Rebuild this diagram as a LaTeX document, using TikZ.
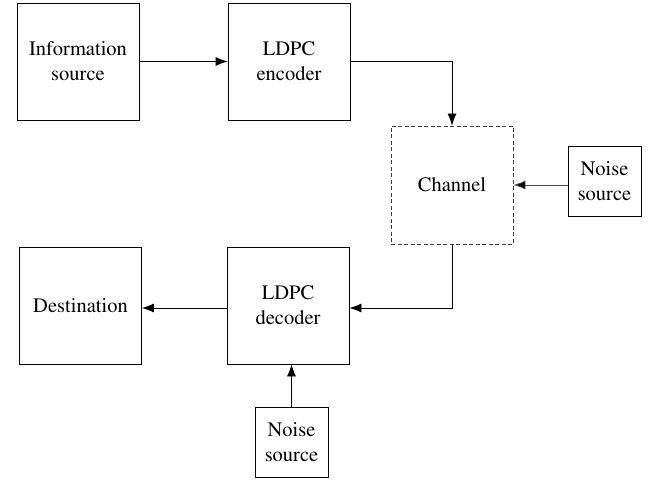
\documentclass[tikz,border=0pt]{standalone}
\usepackage[T1]{fontenc}
\renewcommand{\rmdefault}{ptm}
\usetikzlibrary{arrows.meta}
\begin{document}
\begin{tikzpicture}[x=1pt,y=-1pt,
  blk/.style={draw=black, line width=0.8pt, inner sep=0pt, align=center,
    font=\rmfamily\fontsize{20.5}{25}\selectfont, minimum width=122pt, minimum height=117pt},
  smallblk/.style={blk, minimum width=73pt, minimum height=70pt},
  dashblk/.style={blk, draw=black!75, dashed, dash pattern=on 4pt off 2.5pt, minimum height=118pt},
  conn/.style={line width=0.8pt, -{Latex[length=12pt,width=9pt]}},
  gconn/.style={conn, draw=black!70, -{Latex[length=12pt,width=9pt,fill=black]}}]
\useasboundingbox (0,0) rectangle (653,481);
\node[blk] (info) at (78,61.5) {Information\\source};
\node[blk] (enc) at (289,61.5) {LDPC\\encoder};
\node[dashblk] (chan) at (452,185) {Channel};
\node[smallblk] (noise1) at (604.5,181.5) {Noise\\source};
\node[blk] (dest) at (80.5,305.5) {Destination};
\node[blk] (dec) at (288,305.5) {LDPC\\decoder};
\node[smallblk] (noise2) at (291.5,442) {Noise\\source};
\coordinate (c1) at (452,61.5);
\coordinate (c2) at (452,308);
\draw[conn] (info.east) -- (enc.west);
\draw[conn] (enc.east) -- (c1) -- (chan.north);
\draw[gconn] (noise1.west |- chan.east) -- (chan.east);
\draw[conn] (chan.south) -- (c2) -- (dec.east |- c2);
\draw[conn] (dec.west |- c2) -- (dest.east |- c2);
\draw[conn] (noise2.north) -- (dec.south -| noise2.north);
\end{tikzpicture}
\end{document}
